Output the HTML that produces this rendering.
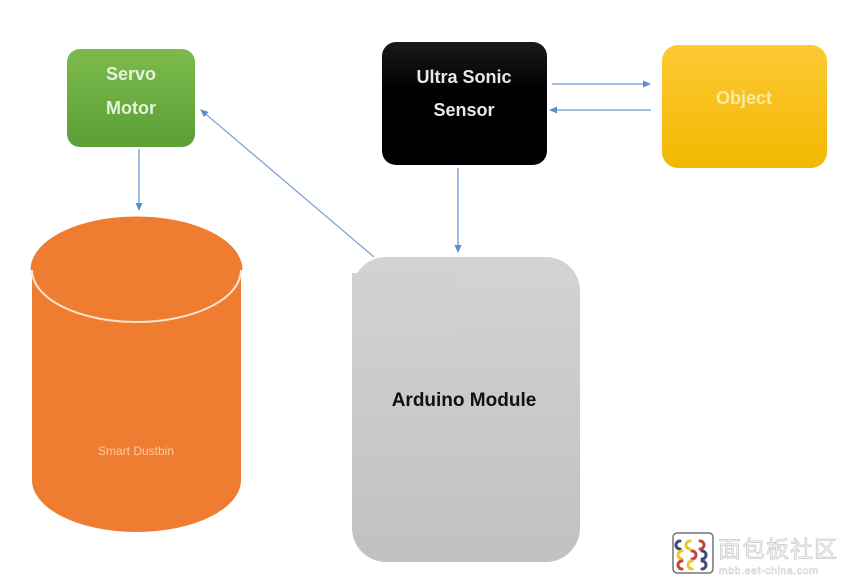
<!DOCTYPE html>
<html><head><meta charset="utf-8"><style>
html,body{margin:0;padding:0;background:#fff;}
svg{display:block;}
</style></head><body>
<svg width="850" height="586" viewBox="0 0 850 586" xmlns="http://www.w3.org/2000/svg" font-family="'Liberation Sans', 'DejaVu Sans', sans-serif">
<defs>
<linearGradient id="gG" x1="0" y1="0" x2="0" y2="1"><stop offset="0" stop-color="#7dba4c"/><stop offset="1" stop-color="#5c9f37"/></linearGradient>
<linearGradient id="gB" x1="0" y1="0" x2="0" y2="1"><stop offset="0" stop-color="#1a1a1a"/><stop offset="0.4" stop-color="#000"/><stop offset="1" stop-color="#000"/></linearGradient>
<linearGradient id="gY" x1="0" y1="0" x2="0" y2="1"><stop offset="0" stop-color="#fdc935"/><stop offset="1" stop-color="#f2b800"/></linearGradient>
<linearGradient id="gA" x1="0" y1="0" x2="0" y2="1"><stop offset="0" stop-color="#d3d3d3"/><stop offset="1" stop-color="#c1c1c1"/></linearGradient>
<marker id="ar" markerWidth="8" markerHeight="8" refX="7" refY="4" orient="auto" markerUnits="userSpaceOnUse"><path d="M0,0.5 L8,4 L0,7.5 Z" fill="#5b8fc9"/></marker>
</defs>

<!-- Servo Motor -->
<rect x="67" y="49" width="128" height="98" rx="13" fill="url(#gG)"/>
<text x="131" y="80" text-anchor="middle" font-size="18" font-weight="bold" fill="#e6f3d8">Servo</text>
<text x="131" y="114" text-anchor="middle" font-size="18" font-weight="bold" fill="#e6f3d8">Motor</text>

<!-- Ultra Sonic Sensor -->
<rect x="382" y="42" width="165" height="123" rx="14" fill="url(#gB)"/>
<text x="464" y="83" text-anchor="middle" font-size="18" font-weight="bold" fill="#e8e8e8">Ultra Sonic</text>
<text x="464" y="116" text-anchor="middle" font-size="18" font-weight="bold" fill="#e8e8e8">Sensor</text>

<!-- Object -->
<rect x="662" y="45" width="165" height="123" rx="16" fill="url(#gY)"/>
<text x="744" y="104" text-anchor="middle" font-size="18" font-weight="bold" fill="#fbeaa6">Object</text>

<!-- Cylinder -->
<path d="M32,270 L32,480 A104.5,52 0 0 0 241,480 L241,270 Z" fill="#ee7d31"/>
<ellipse cx="136.5" cy="270" rx="104.5" ry="52" fill="#ee7d31" stroke="#fbe3cf" stroke-width="2"/>
<path d="M32,270 A104.5,52 0 0 1 241,270" fill="none" stroke="#ee7d31" stroke-width="3"/>
<text x="136" y="455" text-anchor="middle" font-size="12" fill="#f6ccac">Smart Dustbin</text>

<!-- Arduino -->
<rect x="352" y="257" width="228" height="305" rx="34" fill="url(#gA)"/>
<rect x="352" y="273" width="105" height="60" fill="#d0d0d0"/>
<text x="464" y="406" text-anchor="middle" font-size="19" font-weight="bold" fill="#111">Arduino Module</text>

<!-- Arrows -->
<line x1="139" y1="149" x2="139" y2="210" stroke="#6b9bd2" stroke-width="1.3" marker-end="url(#ar)"/>
<line x1="374" y1="257" x2="201" y2="110" stroke="#7fa6d4" stroke-width="1.3" marker-end="url(#ar)"/>
<line x1="458" y1="168" x2="458" y2="252" stroke="#6b9bd2" stroke-width="1.3" marker-end="url(#ar)"/>
<line x1="552" y1="84" x2="650" y2="84" stroke="#6b9bd2" stroke-width="1.3" marker-end="url(#ar)"/>
<line x1="651" y1="110" x2="550" y2="110" stroke="#6b9bd2" stroke-width="1.3" marker-end="url(#ar)"/>

<!-- Watermark -->
<g opacity="0.9">
<rect x="673" y="533" width="40" height="40" rx="4" fill="#fff" stroke="#666" stroke-width="1.5"/>
<g fill="none" stroke-width="3" stroke-linecap="round">
<path d="M680,541 a4,4 0 1 0 0,8" stroke="#2a3a6a"/>
<path d="M690,541 a4,4 0 1 0 0,8" stroke="#e8c020"/>
<path d="M700,541 a4,4 0 1 1 0,8" stroke="#c03020"/>
<path d="M682,551 a4,4 0 1 0 0,8" stroke="#e8c020"/>
<path d="M692,551 a4,4 0 1 1 0,8" stroke="#c03020"/>
<path d="M702,551 a4,4 0 1 1 0,8" stroke="#2a3a6a"/>
<path d="M682,561 a4,4 0 1 0 0,8" stroke="#c03020"/>
<path d="M692,561 a4,4 0 1 0 0,8" stroke="#e8c020"/>
<path d="M702,561 a4,4 0 1 1 0,8" stroke="#2a3a6a"/>
</g>
<text x="718" y="557" font-size="23" font-family="'Noto Sans CJK SC', sans-serif" fill="#f6f6f6" stroke="#c4c4c4" stroke-width="0.7" letter-spacing="1">面包板社区</text>
<text x="719" y="574" font-size="10.5" fill="#f6f6f6" stroke="#c8c8c8" stroke-width="0.5" letter-spacing="0.6">mbb.eet-china.com</text>
</g>
</svg>
</body></html>
